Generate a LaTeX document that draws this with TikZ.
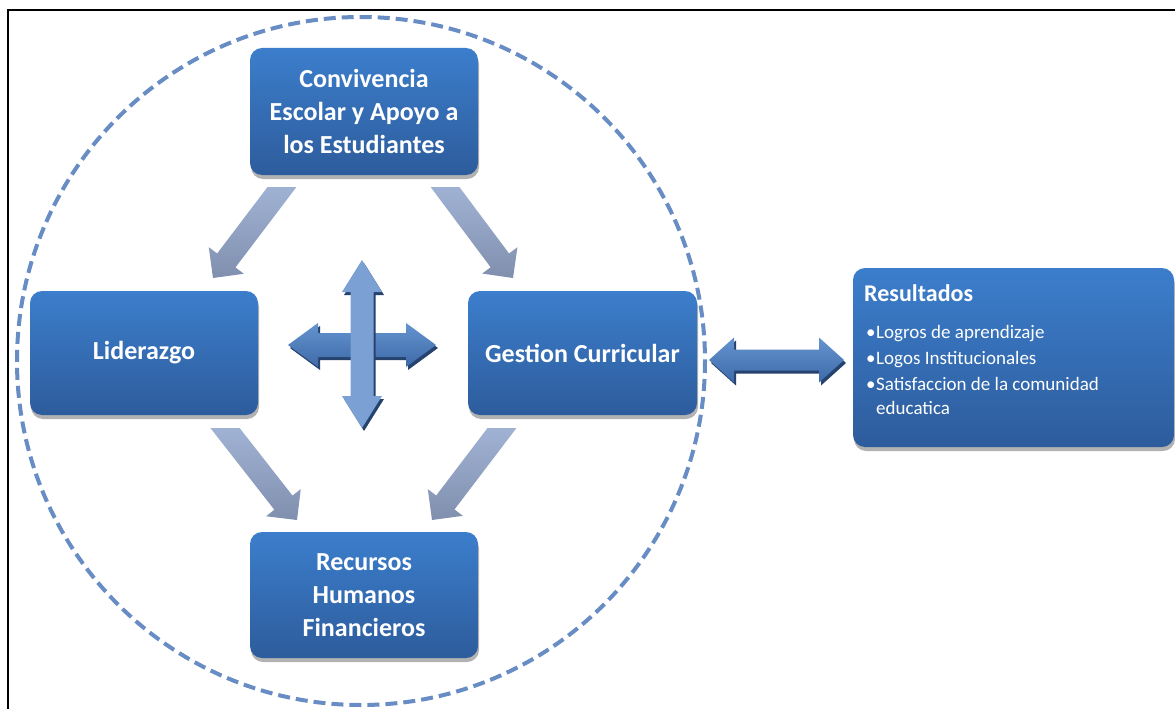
\documentclass[tikz,border=0pt]{standalone}
\usepackage{fontspec}
\setmainfont{Carlito}
\usetikzlibrary{calc,shadows}
\definecolor{boxtop}{RGB}{60,126,204}
\definecolor{boxbot}{RGB}{45,92,156}
\definecolor{dashc}{RGB}{104,141,196}
\definecolor{diagtop}{RGB}{168,187,221}
\definecolor{diagbot}{RGB}{128,143,174}
\definecolor{crosslight}{RGB}{122,160,212}
\definecolor{crossmid}{RGB}{72,116,180}
\definecolor{crosstop}{RGB}{100,148,208}
\definecolor{crossbot}{RGB}{62,106,168}
\definecolor{shadowc}{RGB}{38,66,110}
\newcommand\boxfont{\fontsize{26}{33}\selectfont\bfseries}
\newcommand\restitlefont{\fontsize{24}{28}\selectfont\bfseries}
\newcommand\resitemfont{\fontsize{19}{25}\selectfont}
\newcommand\diagarrow[4]{%
 \begin{scope}
  \clip (0,#2) rectangle (1175,709);
  \coordinate (dT) at (#3,#4);
  \coordinate (dC0) at (#1,#2);
  \coordinate (dC) at ($(dC0)!-20pt!(dT)$);
  \coordinate (dB) at ($(dT)!22pt!(dC0)$);
  \shade[top color=diagtop, bottom color=diagbot]
   ($(dC)!11.5pt!90:(dT)$) -- ($(dB)!11.5pt!90:(dT)$) -- ($(dB)!22pt!90:(dT)$) -- (dT)
   -- ($(dB)!22pt!-90:(dT)$) -- ($(dB)!11.5pt!-90:(dT)$) -- ($(dC)!11.5pt!-90:(dT)$) -- cycle;
 \end{scope}}
\newcommand\crossHpath[1]{\path[#1] (288,345) -- (318,323) -- (318,333) -- (406,333) -- (406,323) -- (436,345) -- (406,367) -- (406,357) -- (318,357) -- (318,367) -- cycle;}
\newcommand\crossVpath[1]{\path[#1] (362,260) -- (382,292) -- (373.5,292) -- (373.5,396) -- (382,396) -- (362,428) -- (342,396) -- (350.5,396) -- (350.5,292) -- (342,292) -- cycle;}
\newcommand\linkpath[1]{\path[#1] (709,360) -- (734,337.5) -- (734,349.5) -- (819,349.5) -- (819,337.5) -- (844,360) -- (819,382.5) -- (819,370.5) -- (734,370.5) -- (734,382.5) -- cycle;}
\begin{document}
\begin{tikzpicture}[x=1pt,y=-1pt,
  box/.style={rounded corners=12pt, top color=boxtop, bottom color=boxbot, text=white,
    font=\boxfont, align=center, inner sep=0pt,
    drop shadow={shadow xshift=1pt, shadow yshift=-4pt, opacity=0.3, fill=black}},
  restext/.style={anchor=base west, inner sep=0pt, text=white}]
\useasboundingbox (0,0) rectangle (1175,709);
\fill[white] (0,0) rectangle (1175,709);
% frame
\draw[line width=2pt] (8,709) -- (8,10) -- (1175,10);
% dashed circle
\draw[dashc, line width=4pt, dash pattern=on 12pt off 6pt] (361,361) circle[radius=344];
% boxes
\node[box, minimum width=228pt, minimum height=127pt] (conv) at (364,111.5) {Convivencia\\Escolar y Apoyo a\\los Estudiantes};
\node[box, minimum width=228pt, minimum height=124pt] (lid) at (144,353) {Liderazgo};
\node[box, minimum width=229pt, minimum height=124pt] (gest) at (582.5,353) {Gestion Curricular};
\node[box, minimum width=228pt, minimum height=126pt] (rec) at (364,595) {Recursos\\Humanos\\Financieros};
\node[box, minimum width=321pt, minimum height=179pt] (res) at (1013.5,357.5) {};
% results text
\node[restext, font=\restitlefont] (rt) at (864,301.5) {Resultados};
\node[restext, font=\resitemfont] (b1) at (866,338) {•};
\node[restext, font=\resitemfont] (r1) at (876,338) {Logros de aprendizaje};
\node[restext, font=\resitemfont] (b2) at (866,364) {•};
\node[restext, font=\resitemfont] (r2) at (876,364) {Logos Institucionales};
\node[restext, font=\resitemfont] (b3) at (866,390) {•};
\node[restext, font=\resitemfont] (r3) at (876,390) {Satisfaccion de la comunidad};
\node[restext, font=\resitemfont] (r4) at (876,414) {educatica};
% diagonal arrows
\diagarrow{282}{187}{213}{278}
\diagarrow{445}{187}{513}{278}
\diagarrow{225}{428}{297}{520}
\diagarrow{502}{428}{432}{520}
% central cross
\begin{scope}[shift={(2,3)}]\crossHpath{fill=shadowc}\end{scope}
\crossHpath{top color=crosstop, bottom color=crossbot}
\begin{scope}[shift={(2,3)}]\crossVpath{fill=shadowc}\end{scope}
\crossVpath{top color=crosslight, middle color=crossmid, bottom color=crosslight}
% link to results
\begin{scope}[shift={(2,3)}]\linkpath{fill=shadowc}\end{scope}
\linkpath{top color=crosstop, bottom color=crossbot}
\end{tikzpicture}
\end{document}
